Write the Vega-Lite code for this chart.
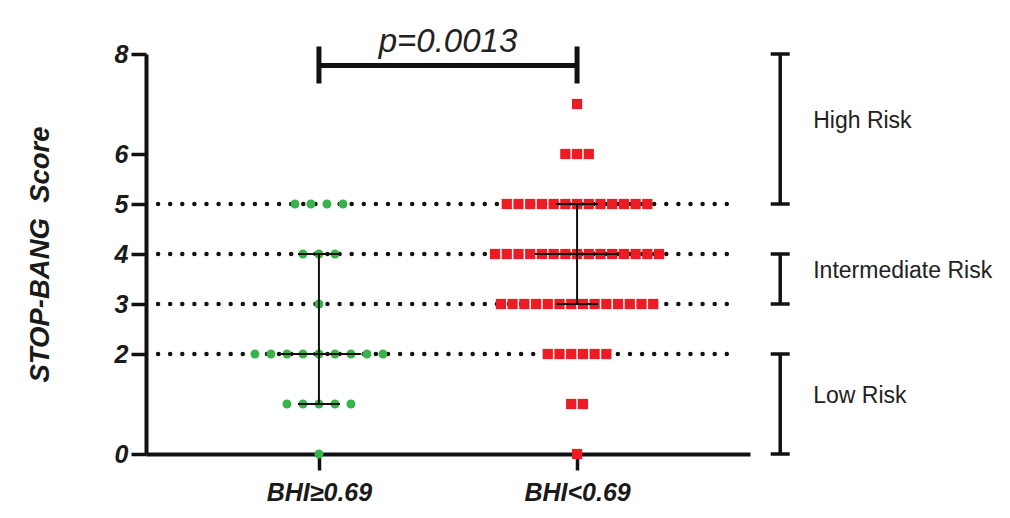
{
  "$schema": "https://vega.github.io/schema/vega-lite/v6.json",
  "width": 604,
  "height": 400,
  "autosize": {"type": "none"},
  "padding": {"left": 146, "top": 54, "right": 260, "bottom": 64},
  "background": "white",
  "config": {
    "view": {"stroke": null},
    "axis": {"grid": false, "domainColor": "#111", "tickColor": "#111", "labelColor": "#1a1a1a", "titleColor": "#1a1a1a"},
    "axisY": {
      "domainWidth": 4, "tickWidth": 3.5, "tickSize": 15,
      "labelFont": "Liberation Sans, Arial, sans-serif",
      "labelFontSize": 25, "labelFontWeight": "bold", "labelFontStyle": "italic", "labelPadding": 3,
      "titleFont": "Liberation Sans, Arial, sans-serif",
      "titleFontSize": 27.5, "titleFontWeight": "bold", "titleFontStyle": "italic", "titlePadding": 60
    },
    "axisX": {
      "domainWidth": 4, "tickWidth": 3.5, "tickSize": 16, "labelAngle": 0,
      "labelFont": "Liberation Sans, Arial, sans-serif",
      "labelFontSize": 25, "labelFontWeight": "bold", "labelFontStyle": "italic", "labelPadding": 10
    }
  },
  "datasets": {
    "scores": [
      {"group": "BHI≥0.69", "score": 0},
      {"group": "BHI≥0.69", "score": 1}, {"group": "BHI≥0.69", "score": 1}, {"group": "BHI≥0.69", "score": 1}, {"group": "BHI≥0.69", "score": 1}, {"group": "BHI≥0.69", "score": 1},
      {"group": "BHI≥0.69", "score": 2}, {"group": "BHI≥0.69", "score": 2}, {"group": "BHI≥0.69", "score": 2}, {"group": "BHI≥0.69", "score": 2}, {"group": "BHI≥0.69", "score": 2}, {"group": "BHI≥0.69", "score": 2}, {"group": "BHI≥0.69", "score": 2}, {"group": "BHI≥0.69", "score": 2}, {"group": "BHI≥0.69", "score": 2},
      {"group": "BHI≥0.69", "score": 3},
      {"group": "BHI≥0.69", "score": 4}, {"group": "BHI≥0.69", "score": 4}, {"group": "BHI≥0.69", "score": 4},
      {"group": "BHI≥0.69", "score": 5}, {"group": "BHI≥0.69", "score": 5}, {"group": "BHI≥0.69", "score": 5}, {"group": "BHI≥0.69", "score": 5},
      {"group": "BHI<0.69", "score": 0},
      {"group": "BHI<0.69", "score": 1}, {"group": "BHI<0.69", "score": 1},
      {"group": "BHI<0.69", "score": 2}, {"group": "BHI<0.69", "score": 2}, {"group": "BHI<0.69", "score": 2}, {"group": "BHI<0.69", "score": 2}, {"group": "BHI<0.69", "score": 2}, {"group": "BHI<0.69", "score": 2},
      {"group": "BHI<0.69", "score": 3}, {"group": "BHI<0.69", "score": 3}, {"group": "BHI<0.69", "score": 3}, {"group": "BHI<0.69", "score": 3}, {"group": "BHI<0.69", "score": 3}, {"group": "BHI<0.69", "score": 3}, {"group": "BHI<0.69", "score": 3}, {"group": "BHI<0.69", "score": 3}, {"group": "BHI<0.69", "score": 3}, {"group": "BHI<0.69", "score": 3}, {"group": "BHI<0.69", "score": 3}, {"group": "BHI<0.69", "score": 3}, {"group": "BHI<0.69", "score": 3}, {"group": "BHI<0.69", "score": 3},
      {"group": "BHI<0.69", "score": 4}, {"group": "BHI<0.69", "score": 4}, {"group": "BHI<0.69", "score": 4}, {"group": "BHI<0.69", "score": 4}, {"group": "BHI<0.69", "score": 4}, {"group": "BHI<0.69", "score": 4}, {"group": "BHI<0.69", "score": 4}, {"group": "BHI<0.69", "score": 4}, {"group": "BHI<0.69", "score": 4}, {"group": "BHI<0.69", "score": 4}, {"group": "BHI<0.69", "score": 4}, {"group": "BHI<0.69", "score": 4}, {"group": "BHI<0.69", "score": 4}, {"group": "BHI<0.69", "score": 4}, {"group": "BHI<0.69", "score": 4},
      {"group": "BHI<0.69", "score": 5}, {"group": "BHI<0.69", "score": 5}, {"group": "BHI<0.69", "score": 5}, {"group": "BHI<0.69", "score": 5}, {"group": "BHI<0.69", "score": 5}, {"group": "BHI<0.69", "score": 5}, {"group": "BHI<0.69", "score": 5}, {"group": "BHI<0.69", "score": 5}, {"group": "BHI<0.69", "score": 5}, {"group": "BHI<0.69", "score": 5}, {"group": "BHI<0.69", "score": 5}, {"group": "BHI<0.69", "score": 5}, {"group": "BHI<0.69", "score": 5},
      {"group": "BHI<0.69", "score": 6}, {"group": "BHI<0.69", "score": 6}, {"group": "BHI<0.69", "score": 6},
      {"group": "BHI<0.69", "score": 7}
    ],
    "summary": [
      {"group": "BHI≥0.69", "median": 2, "q1": 1, "q3": 4},
      {"group": "BHI<0.69", "median": 4, "q1": 3, "q3": 5}
    ],
    "risk": [
      {"risk": "High Risk", "lo": 5, "hi": 8},
      {"risk": "Intermediate Risk", "lo": 3, "hi": 4},
      {"risk": "Low Risk", "lo": 0, "hi": 2}
    ],
    "cutoffs": [{"cut": 2}, {"cut": 3}, {"cut": 4}, {"cut": 5}],
    "stat": [{"p": "p=0.0013"}]
  },
  "layer": [
    {
      "data": {"name": "cutoffs"},
      "mark": {"type": "rule", "strokeDash": [0, 12.1], "strokeCap": "round", "strokeWidth": 4.5, "color": "#111"},
      "encoding": {
        "x": {"datum": 2, "type": "quantitative", "scale": {"domain": [0, 100]}, "axis": null},
        "x2": {"datum": 98},
        "y": {"field": "cut", "type": "quantitative", "scale": {"domain": [0, 8], "nice": false}, "title": "STOP-BANG\u00a0 Score", "axis": {"values": [0, 2, 3, 4, 5, 6, 8]}}
      }
    },
    {
      "layer": [
        {
          "data": {"name": "scores"},
          "transform": [
            {"filter": "datum.group === 'BHI≥0.69'"},
            {"window": [{"op": "row_number", "as": "k"}], "groupby": ["group", "score"]},
            {"joinaggregate": [{"op": "count", "as": "n"}], "groupby": ["group", "score"]},
            {"calculate": "datum.k - (datum.n + 1) / 2", "as": "slot"}
          ],
          "mark": {"type": "point", "shape": "circle", "filled": true, "size": 80, "color": "#36B44A", "opacity": 1},
          "encoding": {
            "x": {"field": "group", "type": "nominal", "scale": {"type": "point", "domain": ["BHI≥0.69", "BHI<0.69"], "padding": 0.67}, "title": null},
            "xOffset": {"field": "slot", "type": "quantitative", "scale": {"domain": [-4, 4], "range": [-64, 64]}},
            "y": {"field": "score", "type": "quantitative", "scale": {"domain": [0, 8], "nice": false}, "title": "STOP-BANG\u00a0 Score", "axis": {"values": [0, 2, 3, 4, 5, 6, 8]}}
          }
        },
        {
          "data": {"name": "scores"},
          "transform": [
            {"filter": "datum.group === 'BHI<0.69'"},
            {"window": [{"op": "row_number", "as": "k"}], "groupby": ["group", "score"]},
            {"joinaggregate": [{"op": "count", "as": "n"}], "groupby": ["group", "score"]},
            {"calculate": "datum.k - (datum.n + 1) / 2", "as": "slot"}
          ],
          "mark": {"type": "point", "shape": "square", "filled": true, "size": 105, "color": "#ED1C24", "opacity": 1},
          "encoding": {
            "x": {"field": "group", "type": "nominal", "title": null},
            "xOffset": {"field": "slot", "type": "quantitative", "scale": {"domain": [-7, 7], "range": [-82, 82]}},
            "y": {"field": "score", "type": "quantitative", "title": "STOP-BANG\u00a0 Score", "axis": {"values": [0, 2, 3, 4, 5, 6, 8]}}
          }
        },
        {
          "data": {"name": "summary"},
          "mark": {"type": "rule", "strokeWidth": 2, "color": "#111"},
          "encoding": {
            "x": {"field": "group", "type": "nominal", "title": null},
            "y": {"field": "q1", "type": "quantitative", "title": "STOP-BANG\u00a0 Score", "axis": {"values": [0, 2, 3, 4, 5, 6, 8]}},
            "y2": {"field": "q3"}
          }
        },
        {
          "data": {"name": "summary"},
          "mark": {"type": "tick", "orient": "horizontal", "size": 84, "thickness": 2, "color": "#111", "opacity": 1},
          "encoding": {
            "x": {"field": "group", "type": "nominal", "title": null},
            "y": {"field": "median", "type": "quantitative", "title": "STOP-BANG\u00a0 Score", "axis": {"values": [0, 2, 3, 4, 5, 6, 8]}}
          }
        },
        {
          "data": {"name": "summary"},
          "transform": [{"fold": ["q1", "q3"], "as": ["quartile", "qvalue"]}],
          "mark": {"type": "tick", "orient": "horizontal", "size": 42, "thickness": 2, "color": "#111", "opacity": 1},
          "encoding": {
            "x": {"field": "group", "type": "nominal", "title": null},
            "y": {"field": "qvalue", "type": "quantitative", "title": "STOP-BANG\u00a0 Score", "axis": {"values": [0, 2, 3, 4, 5, 6, 8]}}
          }
        },
        {
          "data": {"name": "stat"},
          "mark": {"type": "rule", "strokeWidth": 5, "color": "#111"},
          "encoding": {
            "x": {"datum": "BHI≥0.69", "type": "nominal", "title": null},
            "x2": {"datum": "BHI<0.69"},
            "y": {"datum": 7.77, "type": "quantitative", "title": "STOP-BANG\u00a0 Score", "axis": {"values": [0, 2, 3, 4, 5, 6, 8]}}
          }
        },
        {
          "data": {"name": "summary"},
          "mark": {"type": "rule", "strokeWidth": 5, "color": "#111"},
          "encoding": {
            "x": {"field": "group", "type": "nominal", "title": null},
            "y": {"datum": 7.41, "type": "quantitative", "title": "STOP-BANG\u00a0 Score", "axis": {"values": [0, 2, 3, 4, 5, 6, 8]}},
            "y2": {"datum": 8.15}
          }
        }
      ],
      "resolve": {"scale": {"xOffset": "independent"}}
    },
    {
      "layer": [
        {
          "data": {"name": "risk"},
          "mark": {"type": "rule", "strokeWidth": 3.5, "color": "#111"},
          "encoding": {
            "x": {"datum": 105, "type": "quantitative", "scale": {"domain": [0, 100]}, "axis": null},
            "y": {"field": "lo", "type": "quantitative", "title": "STOP-BANG\u00a0 Score", "axis": {"values": [0, 2, 3, 4, 5, 6, 8]}},
            "y2": {"field": "hi"}
          }
        },
        {
          "data": {"name": "risk"},
          "transform": [{"fold": ["lo", "hi"], "as": ["end", "value"]}],
          "mark": {"type": "tick", "orient": "horizontal", "size": 19, "thickness": 3.5, "color": "#111", "opacity": 1},
          "encoding": {
            "x": {"datum": 105, "type": "quantitative", "axis": null},
            "y": {"field": "value", "type": "quantitative", "title": "STOP-BANG\u00a0 Score", "axis": {"values": [0, 2, 3, 4, 5, 6, 8]}}
          }
        },
        {
          "data": {"name": "risk"},
          "transform": [{"fold": ["lo", "hi"], "as": ["end", "value"]}],
          "mark": {"type": "text", "align": "left", "baseline": "middle", "dx": 33, "dy": -8, "font": "Liberation Sans, Arial, sans-serif", "fontSize": 23, "color": "#222"},
          "encoding": {
            "x": {"datum": 105, "type": "quantitative", "axis": null},
            "y": {"field": "value", "aggregate": "mean", "type": "quantitative", "title": "STOP-BANG\u00a0 Score", "axis": {"values": [0, 2, 3, 4, 5, 6, 8]}},
            "text": {"field": "risk", "type": "nominal"}
          }
        },
        {
          "data": {"name": "stat"},
          "mark": {"type": "text", "align": "center", "baseline": "alphabetic", "font": "Liberation Sans, Arial, sans-serif", "fontStyle": "italic", "fontSize": 33, "color": "#222"},
          "encoding": {
            "x": {"datum": 50, "type": "quantitative", "axis": null},
            "y": {"datum": 8.04, "type": "quantitative", "title": "STOP-BANG\u00a0 Score", "axis": {"values": [0, 2, 3, 4, 5, 6, 8]}},
            "text": {"field": "p", "type": "nominal"}
          }
        }
      ]
    }
  ],
  "resolve": {"scale": {"x": "independent"}}
}
